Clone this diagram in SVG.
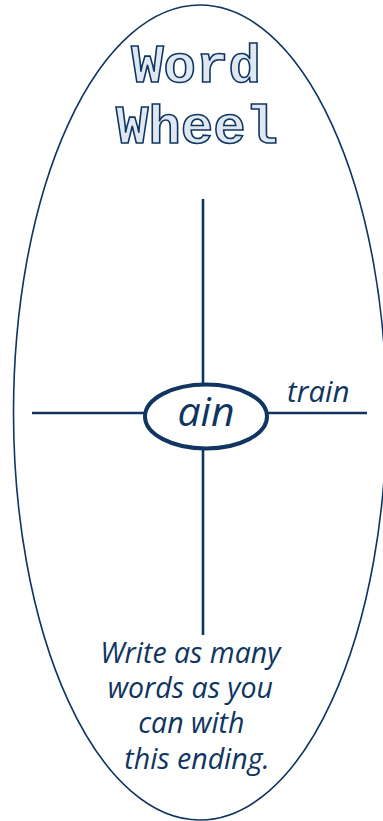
<svg xmlns="http://www.w3.org/2000/svg" width="383" height="821" viewBox="0 0 383 821">
<style>
.ink{stroke:#0f3560;fill:none}
.lbl{font-family:"Open Sans","Noto Sans",sans-serif;font-style:italic;fill:#0f3560}
.title{font-family:"Liberation Mono","DejaVu Sans Mono",monospace;font-size:54px;font-weight:bold;fill:#dfe8f1;stroke:#0f3560;stroke-width:1.6;text-anchor:middle}
</style>
<rect width="383" height="821" fill="#ffffff"/>
<g id="wheel">
<ellipse class="ink" cx="200" cy="412.5" rx="186.5" ry="407.5" stroke-width="1.6"/>
</g>
<g id="title">
<text class="title" x="196" y="82">Word</text>
<text class="title" x="197" y="143">Wheel</text>
</g>
<g id="connectors">
<line class="ink" x1="203" y1="199" x2="203" y2="384" stroke-width="2.6"/>
<line class="ink" x1="203" y1="449" x2="203" y2="635" stroke-width="2.6"/>
<line class="ink" x1="32" y1="413" x2="145" y2="413" stroke-width="2.6"/>
<line class="ink" x1="268" y1="413" x2="367" y2="413" stroke-width="2.6"/>
</g>
<g id="center">
<ellipse class="ink" cx="206" cy="416.5" rx="61" ry="32" stroke-width="4"/>
<text class="lbl" x="206" y="426" font-size="41" text-anchor="middle">ain</text>
</g>
<g id="example">
<text class="lbl" x="287" y="402" font-size="29.5">train</text>
</g>
<g id="instructions">
<text class="lbl" font-size="28.5" text-anchor="middle">
<tspan x="194" y="663">Write as many</tspan>
<tspan x="194" y="698">words as you</tspan>
<tspan x="195" y="733">can with</tspan>
<tspan x="197" y="769">this ending.</tspan>
</text>
</g>
</svg>
